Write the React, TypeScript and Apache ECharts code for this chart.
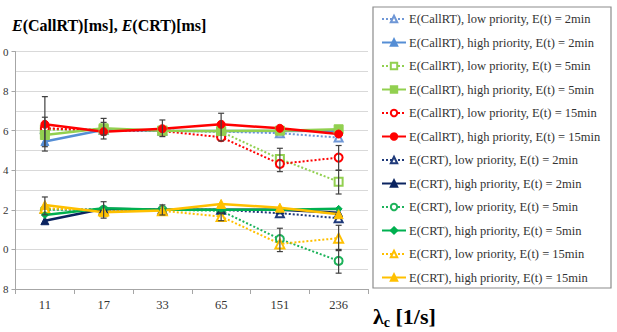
import React, { useEffect, useRef } from "react";
import * as echarts from "echarts";

const categories = ["11", "17", "33", "65", "151", "236"];
const yTickMin = 8;
const yTickMax = 20;

const callrtLow2 = [16.1, 16.05, 16.0, 15.95, 15.87, 15.65];
const callrtHigh2 = [15.45, 16.05, 16.0, 15.98, 15.98, 16.0];
const callrtLow5 = [16.05, 16.05, 16.0, 15.95, 14.57, 13.42];
const callrtHigh5 = [15.78, 16.12, 16.0, 15.98, 16.0, 16.07];
const callrtLow15 = [16.12, 16.0, 15.98, 15.67, 14.32, 14.64];
const callrtHigh15 = [16.32, 15.95, 16.1, 16.32, 16.12, 15.83];
const crtLow2 = [12.05, 12.0, 12.0, 12.0, 11.83, 11.58];
const crtHigh2 = [11.45, 12.05, 12.0, 12.0, 12.0, 11.85];
const crtLow5 = [12.0, 12.0, 12.0, 11.95, 10.52, 9.42];
const crtHigh5 = [11.74, 12.08, 12.0, 12.0, 12.0, 12.05];
const crtLow15 = [12.08, 11.95, 11.95, 11.66, 10.28, 10.57];
const crtHigh15 = [12.25, 11.88, 11.97, 12.3, 12.11, 11.78];

// [category index, low, high]
const errorBars = [
  [0, 14.97, 17.72],
  [0, 15.19, 16.68],
  [1, 15.58, 16.62],
  [1, 15.78, 16.42],
  [2, 15.7, 16.54],
  [3, 15.48, 16.88],
  [4, 13.93, 15.11],
  [5, 14.0, 15.25],
  [5, 12.8, 14.0],
  [0, 11.75, 12.65],
  [1, 11.58, 12.41],
  [2, 11.74, 12.25],
  [3, 11.45, 11.85],
  [4, 9.89, 11.07],
  [5, 9.94, 11.22],
  [5, 8.8, 10.0],
];

const names = [
  "E(CallRT), low priority, E(t) = 2min",
  "E(CallRT), high priority, E(t) = 2min",
  "E(CallRT), low priority, E(t) = 5min",
  "E(CallRT), high priority, E(t) = 5min",
  "E(CallRT), low priority, E(t) = 15min",
  "E(CallRT), high priority, E(t) = 15min",
  "E(CRT), low priority, E(t) = 2min",
  "E(CRT), high priority, E(t) = 2min",
  "E(CRT), low priority, E(t) = 5min",
  "E(CRT), high priority, E(t) = 5min",
  "E(CRT), low priority, E(t) = 15min",
  "E(CRT), high priority, E(t) = 15min",
];

const seriesData = [
  callrtLow2, callrtHigh2, callrtLow5, callrtHigh5, callrtLow15, callrtHigh15,
  crtLow2, crtHigh2, crtLow5, crtHigh5, crtLow15, crtHigh15,
];

const styles = [
  { color: "#6F97D6", low: true, symbol: "emptyTriangle", size: 8 },
  { color: "#558ED5", low: false, symbol: "triangle", size: 8 },
  { color: "#92D050", low: true, symbol: "emptyRect", size: 8 },
  { color: "#92D050", low: false, symbol: "rect", size: 9 },
  { color: "#FF0000", low: true, symbol: "emptyCircle", size: 8 },
  { color: "#FF0000", low: false, symbol: "circle", size: 8 },
  { color: "#1F3A7A", low: true, symbol: "emptyTriangle", size: 8 },
  { color: "#0B2460", low: false, symbol: "triangle", size: 8 },
  { color: "#1DB35A", low: true, symbol: "emptyCircle", size: 8 },
  { color: "#00B050", low: false, symbol: "diamond", size: 7 },
  { color: "#FFC000", low: true, symbol: "emptyTriangle", size: 9 },
  { color: "#FFC000", low: false, symbol: "triangle", size: 9 },
];

const FONT = "Liberation Serif";

export default function App() {
  const ref = useRef<HTMLDivElement>(null);
  useEffect(() => {
    if (!ref.current) return;
    const chart = echarts.init(ref.current, null, { renderer: "svg" });
    const lineSeries: any[] = seriesData.map((d, i) => {
      const s = styles[i];
      return {
        name: names[i],
        type: "line",
        data: d,
        symbol: s.symbol,
        symbolSize: s.size,
        z: s.low ? 3 : 4,
        lineStyle: {
          color: s.color,
          width: s.low ? 2 : 2.5,
          type: s.low ? [2, 2] : "solid",
        },
        itemStyle: { color: s.color, borderColor: s.color, borderWidth: s.low ? 1.2 : 1 },
        emphasis: { disabled: true },
      };
    });
    const errSeries = {
      type: "custom",
      name: "err",
      z: 5,
      data: errorBars,
      renderItem: (params: any, api: any) => {
        const lo = api.coord([api.value(0), api.value(1)]);
        const hi = api.coord([api.value(0), api.value(2)]);
        const st = { stroke: "#404040", lineWidth: 1.2 };
        return {
          type: "group",
          children: [
            { type: "line", shape: { x1: lo[0], y1: lo[1], x2: hi[0], y2: hi[1] }, style: st },
            { type: "line", shape: { x1: lo[0] - 3, y1: lo[1], x2: lo[0] + 3, y2: lo[1] }, style: st },
            { type: "line", shape: { x1: hi[0] - 3, y1: hi[1], x2: hi[0] + 3, y2: hi[1] }, style: st },
          ],
        };
      },
    };
    chart.setOption({
      animation: false,
      textStyle: { fontFamily: FONT },
      grid: { left: 14, right: 249, top: 51.5, bottom: 43, containLabel: false },
      xAxis: {
        type: "category",
        data: categories,
        boundaryGap: true,
        axisLine: { lineStyle: { color: "#A6A6A6", width: 1 } },
        axisTick: { show: true, length: 5, lineStyle: { color: "#A6A6A6" } },
        axisLabel: { fontFamily: FONT, fontSize: 12.5, color: "#333", margin: 9 },
        splitLine: { show: false },
      },
      yAxis: {
        type: "value",
        min: yTickMin,
        max: yTickMax,
        interval: 2,
        axisLine: { show: true, lineStyle: { color: "#A6A6A6", width: 1 } },
        axisTick: { show: true, length: 4, lineStyle: { color: "#A6A6A6" } },
        minorTick: { show: false, splitNumber: 2 },
        axisLabel: {
          fontFamily: FONT,
          fontSize: 11,
          color: "#333",
          margin: 7,
          formatter: (v: number) => String(v % 10),
        },
        splitLine: { show: true, lineStyle: { color: "#D9D9D9", width: 1.2 } },
        minorSplitLine: { show: true, lineStyle: { color: "#D9D9D9", width: 1.2 } },
      },
      legend: {
        data: names,
        orient: "vertical",
        left: 381,
        top: 12,
        itemWidth: 24,
        itemHeight: 8,
        itemGap: 9.5,
        padding: 0,
        selectedMode: false,
        textStyle: { fontFamily: FONT, fontSize: 12.5, color: "#333", lineHeight: 14, padding: [0, 0, 0, -2] },
      },
      graphic: [
        {
          type: "rect",
          shape: { x: 373, y: 7, width: 238, height: 281 },
          style: { fill: "none", stroke: "#8C8C8C", lineWidth: 1.2 },
          z: -1,
        },
        {
          type: "text",
          x: 12,
          y: 17,
          style: {
            text: "{i|E}(CallRT)[ms], {i|E}(CRT)[ms]",
            fontFamily: FONT,
            fontSize: 16,
            fontWeight: "bold",
            fill: "#000",
            rich: {
              i: { fontFamily: FONT, fontSize: 16, fontWeight: "bold", fontStyle: "italic", fill: "#000" },
            },
          },
        },
        {
          type: "text",
          x: 373,
          y: 304,
          style: {
            text: "λ{s|c} [1/s]",
            fontFamily: FONT,
            fontSize: 22,
            fontWeight: "bold",
            fill: "#000",
            rich: {
              s: { fontFamily: FONT, fontSize: 14, fontWeight: "bold", fill: "#000", padding: [11, 0, 0, 0] },
            },
          },
        },
      ],
      series: [...lineSeries, errSeries],
    });
    return () => chart.dispose();
  }, []);
  return (
    <div
      ref={ref}
      style={{ position: "fixed", left: 0, top: 0, width: 617, height: 332, background: "#fff" }}
    />
  );
}
